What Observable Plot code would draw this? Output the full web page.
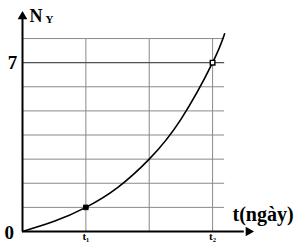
<!DOCTYPE html>
<html><head><meta charset="utf-8">
<script src="https://cdn.jsdelivr.net/npm/d3@7"></script>
<script src="https://cdn.jsdelivr.net/npm/@observablehq/plot@0.6"></script>
<style>body{margin:0;background:#fff}</style>
</head><body><div id="chart"></div>
<script>
const tValues = [0, 0.5, 1, 1.5, 2, 2.5, 3, 3.19];
const nValues = [0, 0.42, 1, 1.82, 3, 4.65, 7, 8.2];
const markedT = [1, 3];
const markedN = [1, 7];
const markedLabels = ["t₁", "t₂"];
const gridY = [1, 2, 3, 4, 5, 6, 7, 8];
const gridX = [1, 2, 3];
const yTickLabel = "7";

const curve = tValues.map((t, i) => ({t, n: nValues[i]}));
const marks = markedT.map((t, i) => ({t, n: markedN[i], label: markedLabels[i]}));
const serif = "Liberation Serif, Times New Roman, serif";

const chart = Plot.plot({
  width: 304, height: 244,
  marginLeft: 22, marginRight: 52, marginTop: 12, marginBottom: 13,
  x: {domain: [0, 3.63], axis: null},
  y: {domain: [0, 9.08], axis: null},
  style: {background: "#fff", overflow: "visible"},
  marks: [
    Plot.ruleY(gridY, {x1: 0, x2: 3.19, stroke: "#8a8a8a", strokeWidth: 1}),
    Plot.ruleX(gridX, {y1: 0, y2: 8, stroke: "#8a8a8a", strokeWidth: 1}),
    Plot.ruleY([7], {x1: 0, x2: 3.19, stroke: "#444", strokeWidth: 1}),
    Plot.line(curve, {x: "t", y: "n", curve: "natural", stroke: "#000", strokeWidth: 1.6}),
    Plot.dot(marks.slice(0,1), {x: "t", y: "n", symbol: "square", r: 2.6, fill: "#000", stroke: "#000", strokeWidth: 1}),
    Plot.dot(marks.slice(1), {x: "t", y: "n", symbol: "square", r: 2.6, fill: "#fff", stroke: "#000", strokeWidth: 1.4}),
    // axes
    Plot.ruleX([0], {y1: 0, y2: 8.85, stroke: "#000", strokeWidth: 2}),
    Plot.ruleY([0], {x1: 0, x2: 3.5, stroke: "#000", strokeWidth: 2}),
    Plot.dot([0], {x: 0, y: 9.08, symbol: "triangle", r: 3.6, fill: "#000", stroke: "none", dy: 4}),
    Plot.dot([0], {x: 3.63, y: 0, symbol: "triangle", r: 3.6, fill: "#000", stroke: "none", rotate: 90, dx: -4}),
    // labels
    Plot.text([yTickLabel], {x: 0, y: 7, text: d => d, dx: -10, textAnchor: "middle", fontFamily: serif, fontWeight: "bold", fontSize: 19, fill: "#000"}),
    Plot.text(["0"], {x: 0, y: 0, text: d => d, dx: -18, dy: 1, textAnchor: "start", fontFamily: serif, fontWeight: "bold", fontSize: 19, fill: "#000"}),
    Plot.text(marks, {x: "t", y: 0, text: "label", dy: 1, textAnchor: "middle", lineAnchor: "top", fontFamily: serif, fontWeight: "bold", fontSize: 11, fill: "#000"}),
    Plot.text(["N"], {x: 0, y: 9.08, text: d => d, dx: 7, dy: 4, textAnchor: "start", lineAnchor: "middle", fontFamily: serif, fontWeight: "bold", fontSize: 18, fill: "#000"}),
    Plot.text(["Y"], {x: 0, y: 9.08, text: d => d, dx: 23, dy: 7, textAnchor: "start", lineAnchor: "middle", fontFamily: serif, fontWeight: "bold", fontSize: 11, fill: "#000"}),
    Plot.text(["t(ngày)"], {x: 3.63, y: 0, text: d => d, dx: -20, dy: -17, textAnchor: "start", lineAnchor: "middle", fontFamily: serif, fontWeight: "bold", fontSize: 20, fill: "#000"})
  ]
});
document.getElementById("chart").appendChild(chart);
</script></body></html>
